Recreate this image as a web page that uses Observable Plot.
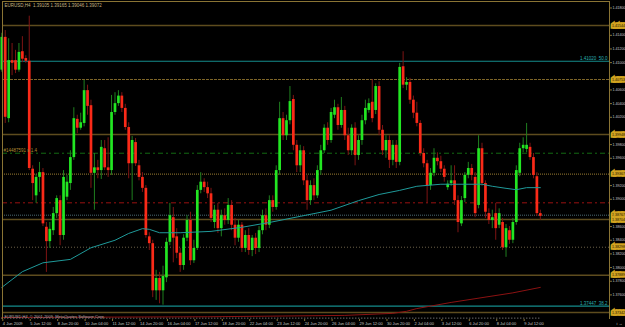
<!DOCTYPE html>
<html><head><meta charset="utf-8">
<script src="https://cdn.jsdelivr.net/npm/d3@7"></script>
<script src="https://cdn.jsdelivr.net/npm/@observablehq/plot@0.6"></script>
<style>html,body{margin:0;padding:0;background:#000;overflow:hidden}</style>
</head><body><div id="chart"></div>
<script>
const headerText = "EURUSD,H4  1.39105 1.39165 1.39046 1.39072";
const footerText = "EURUSD,H4  © 2001-2009, MetaQuotes Software Corp.";
const orderText = "#14487591 s 1.4";

const open = [
1.4089,1.4137,1.4018,1.4103,1.4103,1.4089,1.4116,1.4106,1.4102,1.3944,
1.3905,1.3932,1.3939,1.3859,1.3838,1.3854,1.3879,1.3898,1.3847,1.3903,
1.3923,1.3961,1.4017,1.4004,1.4011,1.4059,1.4037,1.3938,1.3946,1.3942,
1.3974,1.3946,1.3942,1.4027,1.4040,1.4051,1.4033,1.4005,1.3952,1.3983,
1.3949,1.3932,1.3916,1.3845,1.3835,1.3766,1.3784,1.3766,1.3785,1.3837,
1.3873,1.3845,1.3821,1.3803,1.3843,1.3869,1.3810,1.3828,1.3913,1.3925,
1.3917,1.3908,1.3866,1.3884,1.3857,1.3876,1.3869,1.3891,1.3862,1.3843,
1.3862,1.3828,1.3847,1.3825,1.3843,1.3828,1.3854,1.3876,1.3862,1.3898,
1.3888,1.3942,1.4018,1.3993,1.4015,1.4046,1.3979,1.3949,1.3971,1.3927,
1.3898,1.3920,1.3905,1.3942,1.3971,1.4004,1.3986,1.4023,1.4034,1.4008,
1.4030,1.3993,1.3971,1.4004,1.3964,1.3986,1.4015,1.4030,1.4042,1.4030,
1.4065,1.4001,1.3971,1.3986,1.3957,1.3979,1.3954,1.4094,1.4067,1.4071,
1.4045,1.4026,1.4011,1.3967,1.3952,1.3920,1.3938,1.3960,1.3955,1.3944,
1.3917,1.3923,1.3927,1.3898,1.3864,1.3901,1.3935,1.3945,1.3932,1.3891,
1.3974,1.3923,1.3879,1.3869,1.3879,1.3862,1.3866,1.3829,1.3854,1.3840,
1.3866,1.3938,1.3974,1.3973,1.3976,1.3961,1.3933,1.3879];
const high = [
1.4143,1.4147,1.4135,1.4128,1.4118,1.4128,1.4138,1.4110,1.4168,1.3949,
1.3936,1.3954,1.3945,1.3866,1.3866,1.3888,1.3905,1.3905,1.3942,1.3935,
1.3971,1.4034,1.4023,1.4026,1.4074,1.4067,1.4045,1.3967,1.3957,1.3986,
1.3986,1.3990,1.4052,1.4056,1.4059,1.4056,1.4039,1.4012,1.3992,1.3989,
1.3957,1.3939,1.3920,1.3851,1.3840,1.3796,1.3793,1.3802,1.3843,1.3894,
1.3888,1.3857,1.3828,1.3848,1.3876,1.3881,1.3840,1.3920,1.3939,1.3930,
1.3925,1.3916,1.3891,1.3894,1.3884,1.3886,1.3901,1.3898,1.3872,1.3869,
1.3866,1.3854,1.3857,1.3847,1.3850,1.3860,1.3884,1.3886,1.3905,1.3905,
1.3949,1.4042,1.4027,1.4023,1.4065,1.4052,1.3986,1.3979,1.3977,1.3935,
1.3927,1.3930,1.3949,1.3979,1.4009,1.4012,1.4033,1.4045,1.4039,1.4049,
1.4036,1.4004,1.4009,1.4012,1.3993,1.4023,1.4045,1.4047,1.4075,1.4069,
1.4072,1.4008,1.3993,1.3993,1.3986,1.3986,1.4099,1.4116,1.4078,1.4077,
1.4051,1.4042,1.4015,1.3974,1.3957,1.3945,1.3974,1.3968,1.3963,1.3949,
1.3927,1.3949,1.3949,1.3905,1.3904,1.3939,1.3954,1.3951,1.3939,1.3993,
1.3982,1.3927,1.3886,1.3884,1.3894,1.3886,1.3872,1.3863,1.3860,1.3872,
1.3949,1.3982,1.3990,1.4011,1.3982,1.3967,1.3939,1.3884];
const low = [
1.4086,1.4011,1.4012,1.4081,1.4084,1.4086,1.4100,1.4099,1.3942,1.3898,
1.3894,1.3910,1.3860,1.3793,1.3828,1.3847,1.3872,1.3832,1.3840,1.3898,
1.3913,1.3957,1.3996,1.4001,1.4006,1.4023,1.3916,1.3884,1.3930,1.3929,
1.3942,1.3932,1.3935,1.4023,1.4036,1.4027,1.4001,1.3930,1.3898,1.3948,
1.3927,1.3910,1.3843,1.3825,1.3756,1.3752,1.3747,1.3745,1.3778,1.3832,
1.3807,1.3813,1.3793,1.3796,1.3838,1.3803,1.3806,1.3825,1.3908,1.3910,
1.3901,1.3866,1.3857,1.3850,1.3845,1.3862,1.3863,1.3854,1.3832,1.3837,
1.3822,1.3822,1.3818,1.3816,1.3819,1.3822,1.3848,1.3854,1.3857,1.3881,
1.3884,1.3935,1.3986,1.3986,1.4009,1.3971,1.3939,1.3939,1.3920,1.3884,
1.3891,1.3898,1.3901,1.3935,1.3967,1.3979,1.3982,1.4018,1.4001,1.4004,
1.3986,1.3964,1.3964,1.3949,1.3957,1.3979,1.4009,1.4026,1.4012,1.4024,
1.3993,1.3964,1.3960,1.3945,1.3949,1.3945,1.3949,1.4062,1.4059,1.4039,
1.4018,1.4006,1.3963,1.3946,1.3894,1.3913,1.3933,1.3949,1.3939,1.3925,
1.3913,1.3919,1.3891,1.3851,1.3860,1.3895,1.3930,1.3927,1.3873,1.3886,
1.3919,1.3872,1.3863,1.3857,1.3840,1.3857,1.3825,1.3815,1.3834,1.3835,
1.3862,1.3933,1.3968,1.3968,1.3957,1.3930,1.3875,1.3869];
const close = [
1.4137,1.4020,1.4103,1.4099,1.4089,1.4115,1.4105,1.4102,1.3945,1.3923,
1.3932,1.3939,1.3864,1.3838,1.3856,1.3879,1.3901,1.3847,1.3932,1.3925,
1.3961,1.4018,1.4004,1.4012,1.4059,1.4036,1.3938,1.3946,1.3942,1.3976,
1.3946,1.3942,1.4027,1.4040,1.4051,1.4033,1.4005,1.3952,1.3986,1.3952,
1.3932,1.3916,1.3847,1.3835,1.3766,1.3784,1.3766,1.3787,1.3837,1.3876,
1.3843,1.3821,1.3803,1.3843,1.3869,1.3810,1.3828,1.3913,1.3925,1.3917,
1.3908,1.3872,1.3884,1.3857,1.3876,1.3869,1.3891,1.3862,1.3843,1.3862,
1.3828,1.3847,1.3825,1.3843,1.3828,1.3854,1.3876,1.3862,1.3898,1.3888,
1.3942,1.4018,1.3993,1.4015,1.4043,1.3979,1.3949,1.3971,1.3927,1.3898,
1.3920,1.3905,1.3942,1.3971,1.4004,1.3986,1.4027,1.4034,1.4008,1.4030,
1.3993,1.3971,1.4004,1.3964,1.3986,1.4015,1.4033,1.4040,1.4018,1.4065,
1.4001,1.3971,1.3986,1.3957,1.3979,1.3954,1.4093,1.4067,1.4071,1.4045,
1.4026,1.4011,1.3967,1.3952,1.3920,1.3938,1.3960,1.3955,1.3944,1.3932,
1.3922,1.3927,1.3898,1.3866,1.3898,1.3935,1.3945,1.3935,1.3879,1.3974,
1.3923,1.3881,1.3869,1.3873,1.3857,1.3879,1.3829,1.3857,1.3840,1.3866,
1.3942,1.3974,1.3979,1.3979,1.3961,1.3935,1.3879,1.3875];

const maFastIdx = [0,6,12,20,26,33,37,41,43,46,52,61,70,78,87,96,104,110,116,121,128,140,143,147,150,153,157];
const maFastVal = [1.3771,1.3794,1.3807,1.3812,1.3829,1.3840,1.3850,1.3857,1.3856,1.3851,1.3851,1.3853,1.3859,1.3866,1.3875,1.3884,1.3898,1.3907,1.3913,1.3919,1.3922,1.3922,1.3919,1.3916,1.3914,1.3917,1.3917];
const maSlowIdx = [0,60,100,114,118,121,131,140,149,157];
const maSlowVal = [1.3727,1.3728,1.3730,1.3733,1.3736,1.3740,1.3749,1.3756,1.3763,1.3771];

const goldSolid = [1.41544, 1.39948, 1.38704, 1.37889, 1.37342];
const goldDashed = [1.40753];
const goldDotted = [1.39367];
const grayDotted = [1.38298];
const bidLine = [1.38767];
const orderLine = [1.39674];
const stopLine = [1.38948];
const fiboPrices = [1.41020, 1.37435];
const fiboLabels = ["1.41020  50.0", "1.37447  38.2"];
const indicatorLevel = [1.3726];
const tagPrices = [1.41544, 1.40753, 1.39948, 1.39367, 1.38767, 1.38704, 1.38298, 1.37889, 1.37342];

const yTicks = [1.374,1.376,1.378,1.380,1.382,1.384,1.386,1.388,1.390,1.392,1.394,1.396,1.398,1.400,1.402,1.404,1.406,1.408,1.410,1.412,1.414,1.416,1.418];
const xTickIdx = [0,8,16,24,32,40,48,56,64,72,80,88,96,104,112,120,128,136,144,152];
const xTickLabels = ["4 Jun 2009","5 Jun 12:00","8 Jun 20:00","10 Jun 04:00","11 Jun 12:00","14 Jun 20:00","16 Jun 04:00","17 Jun 12:00","18 Jun 20:00","22 Jun 04:00","23 Jun 12:00","24 Jun 20:00","26 Jun 04:00","29 Jun 12:00","30 Jun 20:00","2 Jul 04:00","3 Jul 12:00","6 Jul 20:00","8 Jul 04:00","9 Jul 12:00"];

const xDomain = [0.204, 177.17];
const yDomain = [1.3724, 1.41895];

const bars = open.map((o, i) => ({i, o, h: high[i], l: low[i], c: close[i], up: close[i] >= o}));
const fast = maFastIdx.map((i, k) => ({i, v: maFastVal[k]}));
const slow = maSlowIdx.map((i, k) => ({i, v: maSlowVal[k]}));
const fibo = fiboPrices.map((p, k) => ({p, label: fiboLabels[k]}));
const lastIdx = open.length - 1;
// tick labels hidden under a price tag (as in the terminal)
const freeTicks = yTicks.filter(t => !tagPrices.some(p => Math.abs(p - t) < 0.0007));

const GOLD = "#5e4c1e";
const AXIS = "#8a7434";
const TXT = "#c8c8c8";

const chart = Plot.plot({
  width: 625, height: 327,
  marginTop: 1, marginBottom: 8, marginLeft: 2, marginRight: 16,
  style: {background: "#000", fontFamily: "'Liberation Sans', Arial, sans-serif"},
  x: {domain: xDomain},
  y: {domain: yDomain},
  color: {type: "identity"},
  marks: [
    Plot.ruleY(goldSolid, {y: d => d, stroke: GOLD, strokeWidth: 1.5}),
    Plot.ruleY(goldDashed, {y: d => d, stroke: "#7d6528", strokeWidth: 1, strokeDasharray: "3,1"}),
    Plot.ruleY(goldDotted, {y: d => d, stroke: "#7d6528", strokeWidth: 1.2, strokeDasharray: "1,1"}),
    Plot.ruleY(grayDotted, {y: d => d, stroke: "#6b6048", strokeWidth: 1, strokeDasharray: "1,2"}),
    Plot.ruleY(bidLine, {y: d => d, stroke: "#4a6a72", strokeWidth: 1, strokeDasharray: "1,1"}),
    Plot.ruleY(orderLine, {y: d => d, stroke: "#126a12", strokeWidth: 1, strokeDasharray: "5,3,2,3"}),
    Plot.ruleY(stopLine, {y: d => d, stroke: "#9a1010", strokeWidth: 1, strokeDasharray: "5,3,2,3"}),
    Plot.ruleY(fibo, {y: "p", stroke: "#148c8c", strokeWidth: 1.2}),
    Plot.ruleY(indicatorLevel, {y: d => d, x1: 0, x2: lastIdx, stroke: "#9a9a9a", strokeWidth: 1, strokeDasharray: "1,2"}),
    Plot.line(slow, {x: "i", y: "v", stroke: "#8b1212", strokeWidth: 1}),
    Plot.ruleX(bars, {x: "i", y1: "l", y2: "h", stroke: d => d.up ? "#1f7f1f" : "#7f1414", strokeWidth: 1}),
    Plot.ruleX(bars, {x: "i", y1: "o", y2: "c", stroke: d => d.up ? "#22e622" : "#fa2a18", strokeWidth: 2.7}),
    Plot.line(fast, {x: "i", y: "v", stroke: "#1f9a9a", strokeWidth: 1}),
    Plot.text(fibo, {x: xDomain[1], y: "p", text: "label", textAnchor: "end", dx: -2, dy: -3, fontSize: 4.5, fill: "#2ab0b0"}),
    Plot.text([orderText], {x: xDomain[0], y: orderLine[0], text: d => d, textAnchor: "start", dx: 1, dy: -2.5, fontSize: 4.5, fill: "#b08a30"}),
    Plot.text([headerText], {text: d => d, frameAnchor: "top-left", dx: 2, dy: 2, fontSize: 4.5, fill: "#c4b482"}),
    Plot.text([footerText], {text: d => d, frameAnchor: "bottom-left", dx: 2, dy: -1.5, fontSize: 4, fill: "#b0b0b0"}),
    Plot.ruleX([xDomain[0], xDomain[1]], {stroke: AXIS, strokeWidth: 1}),
    Plot.ruleY([yDomain[1]], {stroke: AXIS, strokeWidth: 1}),
    Plot.axisY({ticks: freeTicks, anchor: "right", tickSize: 2, tickPadding: 1, tickFormat: d => d.toFixed(5), fontSize: 3.6, fill: TXT, stroke: AXIS}),
    Plot.text(tagPrices, {x: xDomain[1], y: d => d, text: d => d.toFixed(5), textAnchor: "start", dx: 2.5, fontSize: 3.6, fill: "#1a1400", stroke: "#d2a420", strokeWidth: 3.5, strokeLinejoin: "miter"}),
    Plot.axisX({ticks: xTickIdx, anchor: "bottom", tickSize: 2, tickPadding: 1, textAnchor: "start", dx: 1, fontSize: 4, fill: TXT, stroke: AXIS, tickFormat: d => xTickLabels[xTickIdx.indexOf(d)]})
  ]
});
document.getElementById("chart").appendChild(chart);
</script>
</body></html>
